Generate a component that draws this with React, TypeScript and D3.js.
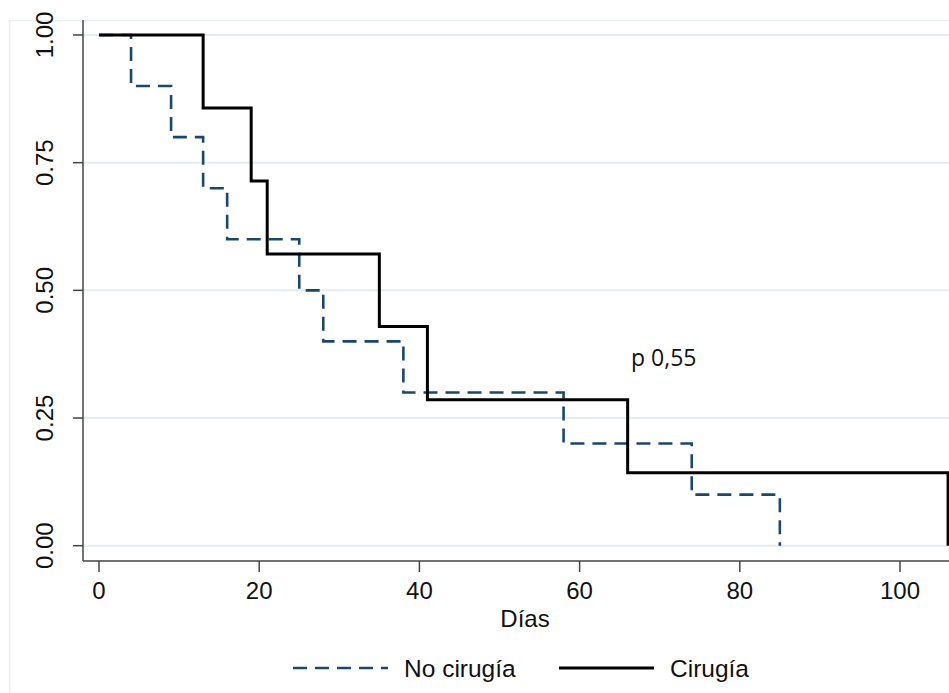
import React from "react";
import * as d3 from "d3";

const noCirugiaTimes = [0, 4, 9, 13, 16, 25, 28, 38, 58, 74, 85];
const noCirugiaSurv = [1, 0.9, 0.8, 0.7, 0.6, 0.5, 0.4, 0.3, 0.2, 0.1, 0];
const cirugiaTimes = [0, 13, 19, 21, 35, 41, 66, 106];
const cirugiaSurv = [1, 0.857, 0.714, 0.571, 0.429, 0.286, 0.143, 0];
const xTicks = [0, 20, 40, 60, 80, 100];
const yTicks = [0, 0.25, 0.5, 0.75, 1];
const yTickLabels = ["0.00", "0.25", "0.50", "0.75", "1.00"];
const seriesNames = ["No cirugía", "Cirugía"];
const xTitle = "Días";
const annotation = "p 0,55";

const W = 949;
const H = 693;

export default function App() {
  const x = d3.scaleLinear().domain([0, 100]).range([99, 900]);
  const y = d3.scaleLinear().domain([0, 1]).range([545.7, 35]);
  const line = d3
    .line<[number, number]>()
    .x((d) => x(d[0]))
    .y((d) => y(d[1]))
    .curve(d3.curveStepAfter);
  const noPts: [number, number][] = noCirugiaTimes.map((t, i) => [t, noCirugiaSurv[i]]);
  const ciPts: [number, number][] = cirugiaTimes.map((t, i) => [t, cirugiaSurv[i]]);
  const font = "'Liberation Sans', Arial, sans-serif";
  const axisX = 83;
  const axisY = 561;
  const navy = "#1a476f";
  return (
    <svg
      width={W}
      height={H}
      style={{ position: "absolute", left: 0, top: 0, background: "#fff" }}
      fontFamily={font}
    >
      <rect x={0} y={0} width={W} height={H} fill="#fff" />
      {/* outer frame */}
      <line x1={9.5} x2={9.5} y1={20} y2={H} stroke="#e6edf3" strokeWidth={1.5} />
      <line x1={9} x2={W} y1={20.5} y2={20.5} stroke="#e6edf3" strokeWidth={1.5} />
      {/* gridlines */}
      {yTicks.map((t) => (
        <line key={"g" + t} x1={axisX} x2={W} y1={y(t)} y2={y(t)} stroke="#e4ecef" strokeWidth={2} />
      ))}
      {/* axes */}
      <line x1={axisX} x2={axisX} y1={20} y2={axisY} stroke="#444" strokeWidth={1.5} />
      <line x1={axisX} x2={W} y1={axisY} y2={axisY} stroke="#444" strokeWidth={1.5} />
      {yTicks.map((t, i) => (
        <g key={"yt" + t}>
          <line x1={73} x2={axisX} y1={y(t)} y2={y(t)} stroke="#444" strokeWidth={1.5} />
          <text
            transform={`translate(53,${y(t)}) rotate(-90)`}
            textAnchor="middle"
            fontSize={24}
            fill="#111"
          >
            {yTickLabels[i]}
          </text>
        </g>
      ))}
      {xTicks.map((t) => (
        <g key={"xt" + t}>
          <line x1={x(t)} x2={x(t)} y1={axisY} y2={572} stroke="#444" strokeWidth={1.5} />
          <text x={x(t)} y={599} textAnchor="middle" fontSize={24} fill="#111">
            {t}
          </text>
        </g>
      ))}
      <text x={525} y={627} textAnchor="middle" fontSize={24} fill="#111">
        {xTitle}
      </text>
      {/* curves */}
      <path d={line(noPts) || ""} fill="none" stroke={navy} strokeWidth={2.6} strokeDasharray="14,8" />
      <path d={line(ciPts) || ""} fill="none" stroke="#000" strokeWidth={3} />
      <text x={631} y={366} fontSize={23} fontFamily="'Open Sans', sans-serif" fill="#111">
        {annotation}
      </text>
      {/* legend */}
      <line x1={293} x2={388} y1={668} y2={668} stroke={navy} strokeWidth={2.6} strokeDasharray="14,8" />
      <text x={404} y={677} fontSize={24.5} fill="#111">
        {seriesNames[0]}
      </text>
      <line x1={559} x2={654} y1={668} y2={668} stroke="#000" strokeWidth={3} />
      <text x={670} y={677} fontSize={24.5} fill="#111">
        {seriesNames[1]}
      </text>
    </svg>
  );
}
